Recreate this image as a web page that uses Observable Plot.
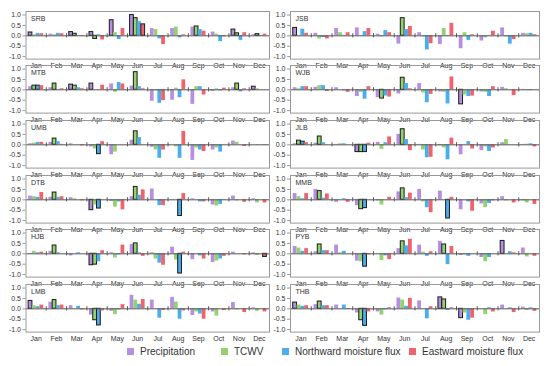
<!DOCTYPE html>
<html><head><meta charset="utf-8">
<script src="https://cdn.jsdelivr.net/npm/d3@7"></script>
<script src="https://cdn.jsdelivr.net/npm/@observablehq/plot@0.6"></script>
<style>
html,body{margin:0;padding:0;background:#fff;}
#wrap{position:relative;width:550px;height:366px;font-family:"Liberation Sans",Arial,sans-serif;overflow:hidden;}
.panel{position:absolute;}
.panel svg{overflow:visible;}
#legend{position:absolute;left:0;top:345px;width:550px;height:14px;font-size:10px;color:#333;}
#legend span.it{position:absolute;top:0;white-space:nowrap;line-height:14px;}
#legend i{display:inline-block;width:7px;height:7px;margin-right:6px;vertical-align:0px;}
</style></head>
<body><div id="wrap"><div id="legend"></div></div>
<script>
const months = ["Jan","Feb","Mar","Apr","May","Jun","Jul","Aug","Sep","Oct","Nov","Dec"];
const series = ["Precipitation","TCWV","Northward moisture flux","Eastward moisture flux"];
const seriesKey = ["P","T","N","E"];
const colors = ["#b68fe0","#92d36f","#4badec","#f0636c"];
const basins = ["SRB","JSB","MTB","WJB","UMB","JLB","DTB","MMB","HJB","PYB","LMB","THB"];

// values: per month P, T, N, E
const SRB = [0.16,0.05,0.12,0.10, 0.08,0.05,0.12,0.10, 0.18,0.10,0.02,0.02, 0.18,-0.15,0.05,-0.20, 0.75,0.15,-0.18,0.35, 1.00,0.85,0.68,0.55, 0.35,0.30,-0.15,-0.42, 0.35,0.42,-0.10,0.05, 0.42,0.45,0.30,0.22, 0.18,0.08,-0.28,-0.05, 0.30,0.12,-0.22,0.15, 0.05,0.08,0.02,0.08];
const JSB = [0.38,0.02,0.32,0.12, 0.12,-0.15,-0.08,-0.15, 0.35,0.15,0.02,0.15, 0.38,0.02,0.20,0.35, 0.08,-0.05,0.25,0.15, -0.40,0.85,0.30,0.45, 0.15,-0.05,-0.68,-0.38, -0.42,0.35,0.02,0.60, -0.62,0.15,-0.22,0.05, -0.25,-0.10,0.02,0.22, 0.38,-0.05,-0.40,-0.18, 0.12,0.10,0.12,0.05];
const MTB = [0.15,0.20,0.20,0.20, 0.10,0.30,0.02,0.05, 0.25,0.20,0.10,0.05, 0.30,0.00,0.00,0.22, 0.28,-0.12,0.35,0.28, 0.18,0.85,0.15,0.05, -0.55,-0.05,-0.65,-0.52, -0.50,0.08,-0.38,0.48, -0.70,0.15,0.15,-0.25, -0.08,0.05,-0.05,0.08, 0.10,0.30,-0.10,0.05, 0.15,0.05,0.00,0.00];
const WJB = [0.10,0.05,0.15,0.15, 0.12,0.20,0.20,-0.08, 0.10,0.00,-0.05,-0.12, -0.32,-0.12,-0.45,0.15, -0.38,-0.42,-0.30,-0.35, -0.20,0.58,0.30,0.05, 0.30,-0.15,-0.62,-0.22, -0.10,-0.12,-0.68,0.62, -0.70,-0.25,-0.32,-0.30, -0.10,-0.12,-0.32,0.15, 0.12,0.05,0.00,-0.28, 0.02,-0.03,-0.03,0.00];
const UMB = [0.05,0.08,0.12,0.12, 0.12,0.30,0.15,0.02, 0.05,0.00,0.00,-0.05, -0.10,-0.20,-0.45,0.15, -0.48,-0.35,0.00,0.00, 0.22,0.65,0.35,0.00, -0.12,-0.25,-0.65,-0.25, 0.00,-0.10,-0.65,0.65, -0.75,-0.15,-0.25,-0.32, -0.25,-0.15,-0.35,0.00, 0.18,0.12,0.00,-0.08, 0.00,-0.02,0.00,-0.02];
const JLB = [0.05,0.20,0.15,0.10, 0.08,0.40,0.10,0.00, 0.02,0.05,0.05,0.00, -0.35,-0.35,-0.35,0.08, 0.12,-0.22,0.10,0.38, 0.50,0.75,0.25,-0.28, 0.02,-0.25,-0.62,-0.60, -0.05,-0.15,-0.72,0.32, -0.48,0.00,0.15,-0.20, -0.28,-0.10,-0.32,-0.15, 0.10,0.25,0.00,0.00, 0.02,0.03,0.05,-0.10];
const DTB = [0.18,0.15,0.12,0.35, 0.12,0.35,0.12,0.15, 0.10,0.05,0.00,-0.05, -0.50,-0.25,-0.42,0.00, -0.08,-0.35,-0.10,-0.48, 0.15,0.62,0.22,0.48, 0.52,0.00,-0.28,-0.28, 0.02,0.00,-0.78,0.30, 0.05,0.00,-0.10,-0.10, -0.25,-0.30,-0.22,0.02, 0.18,-0.05,0.00,-0.12, 0.05,-0.15,0.00,-0.15];
const MMB = [0.30,0.15,0.05,0.30, 0.50,0.42,0.08,0.28, -0.12,0.00,0.05,-0.12, -0.28,-0.45,-0.40,0.00, -0.05,-0.25,0.00,0.12, 0.38,0.55,0.10,0.32, 0.50,-0.10,-0.38,-0.62, 0.42,0.00,-0.90,0.12, -0.48,0.00,-0.10,-0.55, -0.20,-0.38,-0.18,-0.05, 0.15,-0.05,0.00,-0.15, -0.05,-0.15,0.00,-0.22];
const HJB = [0.02,0.12,0.05,0.08, 0.12,0.40,0.05,0.00, -0.10,0.00,0.05,0.00, -0.55,-0.52,-0.38,0.15, 0.05,-0.20,-0.05,0.42, 0.45,0.50,0.05,-0.12, 0.05,-0.25,-0.45,-0.55, 0.32,-0.30,-0.95,0.08, -0.28,0.00,-0.10,-0.25, -0.42,-0.35,-0.25,-0.12, 0.08,0.00,0.00,-0.05, 0.05,-0.08,0.00,-0.15];
const PYB = [0.35,0.28,0.12,0.25, 0.10,0.45,0.15,0.15, 0.42,0.05,0.12,0.00, -0.35,-0.38,-0.62,-0.05, 0.00,-0.32,-0.10,-0.28, 0.25,0.60,0.38,0.70, 0.42,0.08,-0.12,0.10, 0.60,0.45,-0.52,0.35, -0.08,-0.05,-0.12,0.00, -0.18,-0.38,-0.18,0.00, 0.62,0.00,0.10,0.05, 0.28,-0.15,0.00,-0.12];
const LMB = [0.38,0.15,0.10,0.18, 0.32,0.42,0.15,0.18, 0.15,0.00,0.12,-0.05, -0.30,-0.55,-0.80,-0.10, -0.12,-0.28,-0.05,0.20, 0.65,0.42,0.22,0.45, 0.42,0.00,-0.45,-0.08, 0.55,0.32,-0.50,-0.10, -0.32,-0.15,-0.25,-0.50, -0.15,-0.35,0.00,-0.08, 0.30,-0.05,0.00,-0.18, 0.05,-0.12,0.00,-0.15];
const THB = [0.30,0.18,0.12,0.15, 0.20,0.35,0.15,0.15, 0.18,0.00,0.18,-0.03, -0.20,-0.55,-0.82,-0.15, -0.15,-0.30,-0.05,0.05, 0.52,0.42,0.12,0.50, 0.38,0.00,-0.48,0.10, 0.55,0.45,-0.08,0.05, -0.45,-0.20,-0.55,-0.45, 0.00,-0.28,0.05,-0.15, 0.18,0.00,0.05,-0.18, 0.08,-0.08,0.05,-0.12];

// significant (outlined) bars: "Month-Series"
const SRB_sig = ["Jan-P","Mar-P","Mar-T","Apr-P","Apr-T","May-P","Jun-P","Jun-T","Jun-E","Sep-T","Nov-P","Nov-T","Dec-T"];
const JSB_sig = ["Jan-P","Jun-T"];
const MTB_sig = ["Jan-T","Jan-N","Feb-T","Mar-P","Mar-T","Apr-P","Jun-T","Nov-T","Dec-P"];
const WJB_sig = ["May-T","Jun-T","Sep-P"];
const UMB_sig = ["Feb-T","Apr-N","Jun-T"];
const JLB_sig = ["Jan-T","Jan-N","Feb-T","Apr-P","Apr-T","Apr-N","Jun-T"];
const DTB_sig = ["Feb-T","Apr-P","Apr-N","Jun-T","Aug-N"];
const MMB_sig = ["Feb-T","Apr-T","Apr-N","Jun-T","Aug-N"];
const HJB_sig = ["Feb-T","Apr-P","Apr-T","Jun-T","Aug-N","Dec-E"];
const PYB_sig = ["Feb-T","Apr-N","Jun-T","Aug-T","Nov-P"];
const LMB_sig = ["Jan-P","Feb-T","Apr-T","Apr-N"];
const THB_sig = ["Jan-P","Feb-T","Apr-T","Apr-N","Aug-P","Aug-T","Sep-P"];

const values = {SRB,JSB,MTB,WJB,UMB,JLB,DTB,MMB,HJB,PYB,LMB,THB};
const sigs = {SRB:SRB_sig,JSB:JSB_sig,MTB:MTB_sig,WJB:WJB_sig,UMB:UMB_sig,JLB:JLB_sig,DTB:DTB_sig,MMB:MMB_sig,HJB:HJB_sig,PYB:PYB_sig,LMB:LMB_sig,THB:THB_sig};

const wrap = document.getElementById("wrap");
const rowStep = 54.6;
const barStart = 0.13, barW = 0.185;

basins.forEach((b, i) => {
  const col = i % 2, row = Math.floor(i / 2);
  const vals = values[b];
  const sig = new Set(sigs[b]);
  const data = [];
  months.forEach((m, mi) => series.forEach((s, si) => {
    data.push({m: mi, s: si, v: vals[mi*4+si], sig: sig.has(m + "-" + seriesKey[si])});
  }));
  const chart = Plot.plot({
    width: 275, height: 70,
    marginTop: 10, marginBottom: 12.4,
    marginLeft: col === 0 ? 25.5 : 15, marginRight: col === 0 ? 6 : 11,
    style: {fontFamily: "Liberation Sans, Arial, sans-serif", fontSize: "7px", color: "#333", background: "transparent"},
    x: {domain: [0, 12], axis: null},
    y: {domain: [-1.12, 1.17], axis: null},
    marks: [
      Plot.rectY(data, {
        x1: d => d.m + barStart + d.s * barW,
        x2: d => d.m + barStart + (d.s + 1) * barW,
        y1: 0, y2: "v",
        fill: d => colors[d.s],
        stroke: d => d.sig ? "#1a1a1a" : "none",
        strokeWidth: 1
      }),
      Plot.ruleY([0], {stroke: "#555", strokeWidth: 1}),
      Plot.ruleX(d3.range(1, 12), {y1: -0.1, y2: 0.1, stroke: "#555", strokeWidth: 1}),
      Plot.frame({stroke: "#999", strokeWidth: 1}),
      Plot.axisY([-1, -0.5, 0, 0.5, 1], {label: null, tickSize: 3, tickPadding: 2, tickFormat: d => d.toFixed(1), stroke: "#999", fill: "#333"}),
      Plot.axisX(months.map((m, mi) => mi + 0.5), {label: null, tickSize: 0, tickPadding: 4, tickFormat: (d) => months[Math.floor(d)], fill: "#333"}),
      Plot.text([b], {frameAnchor: "top-left", dx: 5, dy: 5, text: d => d, fontSize: 7, fill: "#333"})
    ]
  });
  const div = document.createElement("div");
  div.className = "panel";
  div.style.left = (col === 0 ? 0 : 275) + "px";
  div.style.top = (0.7 + row * rowStep) + "px";
  div.appendChild(chart);
  wrap.appendChild(div);
});

// legend
const legend = document.getElementById("legend");
const legendX = [127, 221, 282, 409];
series.forEach((s, si) => {
  const sp = document.createElement("span");
  sp.className = "it";
  sp.style.left = legendX[si] + "px";
  const sw = document.createElement("i");
  sw.style.background = colors[si];
  sp.appendChild(sw);
  sp.appendChild(document.createTextNode(s));
  legend.appendChild(sp);
});
</script></body></html>
